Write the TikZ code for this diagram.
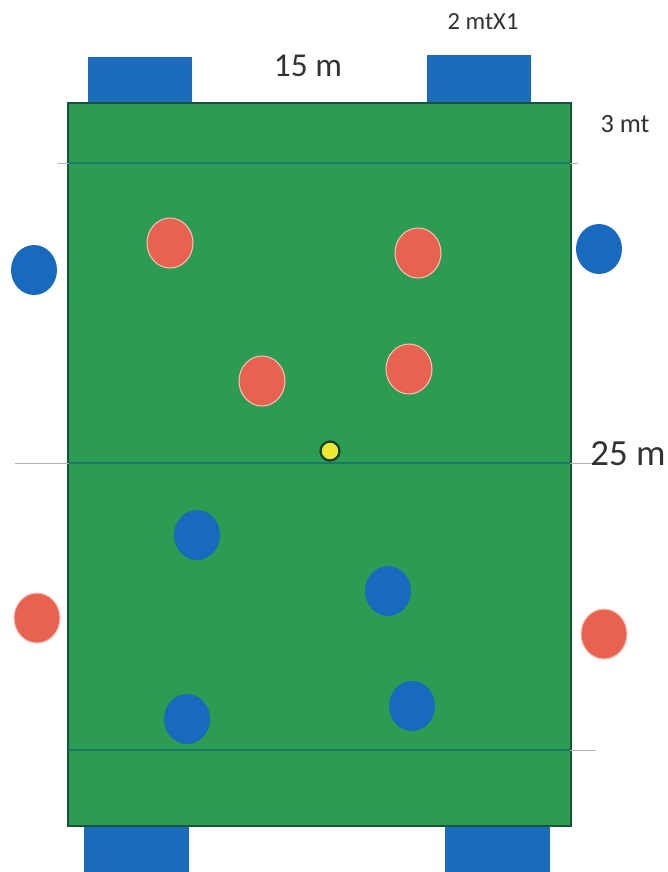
\documentclass[tikz,border=0pt]{standalone}
\usepackage{fontspec}
\setsansfont{Carlito}
\usetikzlibrary{shapes.geometric}
\definecolor{pitch}{RGB}{44,156,82}
\definecolor{pitchedge}{RGB}{24,84,60}
\definecolor{markline}{RGB}{26,120,100}
\definecolor{goalblue}{RGB}{26,108,186}
\definecolor{teamblue}{RGB}{24,106,190}
\definecolor{teamred}{RGB}{232,98,80}
\definecolor{balls}{RGB}{240,232,50}
\definecolor{labeltext}{RGB}{50,50,50}
\tikzset{
  player/.style={ellipse, minimum width=0.92cm, minimum height=1cm, inner sep=0pt},
  redplayer/.style={player, fill=teamred, draw=teamred!40!white, line width=0.6pt},
  blueplayer/.style={player, fill=teamblue},
  ballmark/.style={circle, minimum size=0.38cm, inner sep=0pt, fill=balls, draw=pitchedge!80!black, line width=1.3pt},
  dimlabel/.style={text=labeltext, inner sep=0pt}
}
\begin{document}
\begin{tikzpicture}[x=0.02cm,y=-0.02cm, font=\sffamily]
\useasboundingbox (0,0) rectangle (667,872);
% goals
\fill[goalblue] (88,57) rectangle (192,108);
\fill[goalblue] (427,55) rectangle (531,106);
\fill[goalblue] (84,822) rectangle (189,872);
\fill[goalblue] (445,822) rectangle (550,872);
% pitch
\draw[pitchedge, line width=1.4pt, fill=pitch] (68,103) rectangle (571,826);
% guide lines
\draw[gray!60, line width=0.5pt] (58,163) -- (578,163);
\draw[gray!60, line width=0.5pt] (15,463) -- (596,463);
\draw[gray!60, line width=0.5pt] (72,750) -- (596,750);
\draw[markline, line width=0.8pt] (69,163) -- (570,163);
\draw[markline, line width=0.8pt] (69,463) -- (570,463);
\draw[markline, line width=0.8pt] (69,750) -- (570,750);
% labels
\node[dimlabel, font=\sffamily\fontsize{14}{16}\selectfont] (goalsize) at (483,22) {2 mtX1};
\node[dimlabel, font=\sffamily\fontsize{19}{22}\selectfont] (width) at (308,66) {15 m};
\node[dimlabel, font=\sffamily\fontsize{15}{18}\selectfont] (area) at (625,124) {3 mt};
\node[dimlabel, font=\sffamily\fontsize{21}{24}\selectfont] (length) at (628,454) {25 m};
% red team
\node[redplayer] (r1) at (170,243) {};
\node[redplayer] (r2) at (418,253) {};
\node[redplayer] (r3) at (262,381) {};
\node[redplayer] (r4) at (409,369) {};
\node[redplayer] (r5) at (37,618) {};
\node[redplayer] (r6) at (604,634) {};
% blue team
\node[blueplayer] (b1) at (197,535) {};
\node[blueplayer] (b2) at (388,591) {};
\node[blueplayer] (b3) at (187,719) {};
\node[blueplayer] (b4) at (412,706) {};
\node[blueplayer] (b5) at (34,270) {};
\node[blueplayer] (b6) at (599,249) {};
% ball
\node[ballmark] (ball) at (330,451) {};
\end{tikzpicture}
\end{document}
